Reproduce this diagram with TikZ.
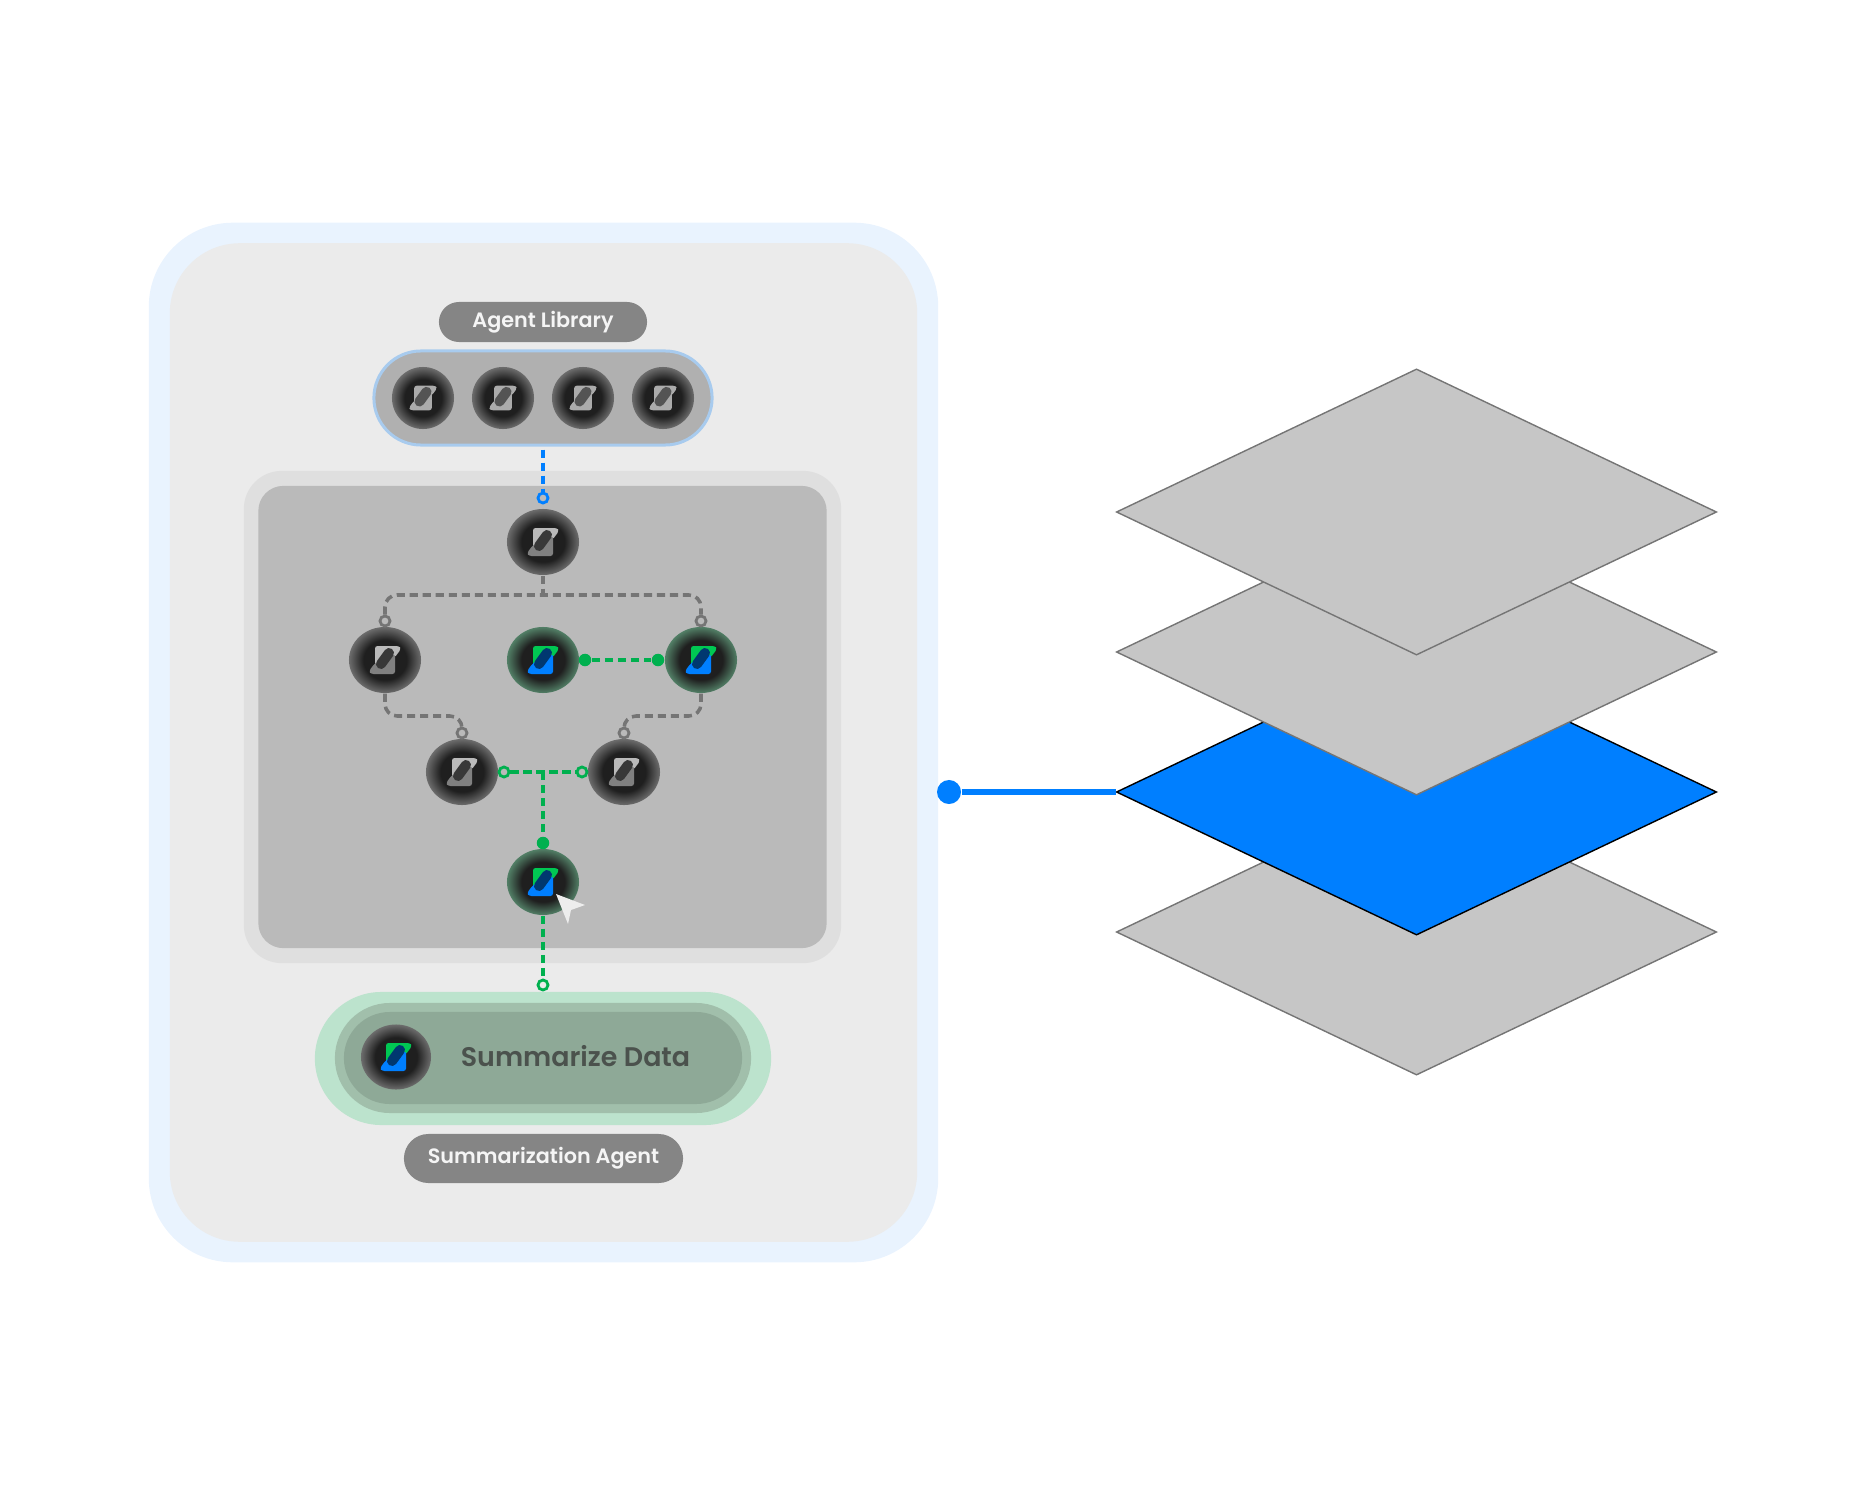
\documentclass[tikz,border=0pt]{standalone}
\usepackage{fontspec}
\setmainfont{Poppins}[BoldFont={Poppins SemiBold}]
\usetikzlibrary{shapes.geometric}
\definecolor{agentdark}{HTML}{1F1F1F}
\definecolor{ringgray}{HTML}{6C6C6C}
\definecolor{ringgreen}{HTML}{527F66}
\definecolor{linkblue}{HTML}{007FFF}
\definecolor{linkgreen}{HTML}{00B04F}
\definecolor{linkgray}{HTML}{757575}
\definecolor{panelgray}{HTML}{BABABA}
\definecolor{framecol}{HTML}{E9F3FE}
\definecolor{librim}{HTML}{A8CBEE}
\definecolor{glyphgreen}{HTML}{00C853}
\definecolor{glyphnavy}{HTML}{003870}
\definecolor{sumouter}{HTML}{BCE3CD}
\definecolor{summiddle}{HTML}{A1BFAB}
\definecolor{suminner}{HTML}{8EA997}
\definecolor{sumink}{HTML}{4B524D}
\pgfdeclareradialshading{agentgrayring}{\pgfpointorigin}{color(0bp)=(agentdark); color(15bp)=(agentdark); color(25bp)=(ringgray); color(50bp)=(ringgray)}
\pgfdeclareradialshading{agentgreenring}{\pgfpointorigin}{color(0bp)=(agentdark); color(15bp)=(agentdark); color(25bp)=(ringgreen); color(50bp)=(ringgreen)}
\tikzset{
  agent/.style={ellipse, inner sep=0, minimum width=0.72cm, minimum height=0.66cm},
  idle/.style={agent, shading=agentgrayring},
  active/.style={agent, shading=agentgreenring},
  tag/.style={fill=black!48, text=white!96!black, rounded corners=0.2cm, inner sep=0, font=\fontsize{5.9pt}{8pt}\selectfont\bfseries},
  layer/.style={diamond, draw=linkgray, fill=black!22.5, line width=0.4pt, inner sep=0, minimum width=6cm, minimum height=2.86cm},
  opendot/.style={circle, draw=#1, fill=panelgray, line width=0.8pt, inner sep=0, minimum size=0.1cm},
  soliddot/.style={circle, fill=#1, inner sep=0, minimum size=0.125cm},
  link/.style={draw=#1, line width=1pt, dash pattern=on 2.3pt off 1.4pt},
  pics/glyph/.style n args={3}{code={
    \fill[#1, rounded corners=0.025cm] (-10,-14) -- (14,-14) -- (16,-11) -- (10,-3) -- (-10,6) -- cycle;
    \fill[#2, rounded corners=0.025cm] (10,14) -- (-14,14) -- (-16,11) -- (-10,3) -- (10,-6) -- cycle;
    \draw[#3, line width=2.85pt, line cap=round] (-4,4) -- (4,-7);
  }}
}
\begin{document}
\begin{tikzpicture}[x=0.01cm, y=-0.01cm]
  \useasboundingbox (0,0) rectangle (1866,1485);
  % frame and panels
  \node[fill=framecol, rounded corners=0.84cm, inner sep=0, minimum width=7.89cm, minimum height=10.39cm] (frame) at (543.5,742.5) {};
  \node[fill=black!8, rounded corners=0.7cm, inner sep=0, minimum width=7.47cm, minimum height=9.98cm] (sheet) at (543.5,742.5) {};
  \node[fill=black!12.5, rounded corners=0.38cm, inner sep=0, minimum width=5.97cm, minimum height=4.92cm] (tray) at (542.5,717) {};
  \node[fill=panelgray, rounded corners=0.25cm, inner sep=0, minimum width=5.68cm, minimum height=4.62cm] (board) at (542.5,717) {};
  % library
  \node[tag, minimum width=2.08cm, minimum height=0.4cm] (libtag) at (543,322) {Agent Library};
  \node[draw=librim, fill=black!31, line width=0.85pt, rounded corners=0.47cm, inner sep=0, minimum width=3.38cm, minimum height=0.94cm] (library) at (543,398) {};
  \foreach \i/\x in {1/423,2/503,3/583,4/663} {
    \node[idle, minimum width=0.62cm, minimum height=0.62cm] (lib\i) at (\x,398) {};
    \pic[scale=0.88] at (lib\i) {glyph={black!33}{black!33}{black!67}};
  }
  % agents on the board
  \node[idle] (start) at (543,542) {};
  \node[idle] (left) at (385,660) {};
  \node[active] (mid) at (543,660) {};
  \node[active] (right) at (701,660) {};
  \node[idle] (lowl) at (462,772) {};
  \node[idle] (lowr) at (624,772) {};
  \node[active] (final) at (543,882) {};
  \foreach \n in {start,left,lowl,lowr} \pic at (\n) {glyph={black!27}{black!50}{black!78}};
  \foreach \n in {mid,right,final} \pic at (\n) {glyph={glyphgreen}{linkblue}{glyphnavy}};
  % end points
  \node[opendot=linkblue] (startin) at (543,498) {};
  \node[opendot=linkgray] (leftin) at (385,621) {};
  \node[opendot=linkgray] (rightin) at (701,621) {};
  \node[opendot=linkgray] (lowlin) at (462,733) {};
  \node[opendot=linkgray] (lowrin) at (624,733) {};
  \node[soliddot=linkgreen] (midout) at (585,660) {};
  \node[soliddot=linkgreen] (rightout) at (658,660) {};
  \node[opendot=linkgreen] (lowlout) at (504,772) {};
  \node[opendot=linkgreen] (lowrout) at (582,772) {};
  \node[soliddot=linkgreen] (finalin) at (543,843) {};
  \node[opendot=linkgreen, fill=black!8] (sumin) at (543,985) {};
  \coordinate (split) at (543,595);
  \coordinate (merge) at (543,772);
  \coordinate (ljoin) at (424,716);
  \coordinate (rjoin) at (662,716);
  % links
  \draw[link=linkblue, shorten <=0.03cm] (library.south) -- (startin.north);
  \draw[link=linkgray] (start.south) -- (split);
  \draw[link=linkgray, rounded corners=0.12cm] (leftin.north) |- (split) -| (rightin.north);
  \draw[link=linkgray, rounded corners=0.12cm] (left.south) |- (ljoin) -| (lowlin.north);
  \draw[link=linkgray, rounded corners=0.12cm] (right.south) |- (rjoin) -| (lowrin.north);
  \draw[link=linkgreen] (midout) -- (rightout);
  \draw[link=linkgreen] (lowlout.east) -- (lowrout.west);
  \draw[link=linkgreen] (merge) -- (finalin);
  \draw[link=linkgreen] (final.south) -- (sumin.north);
  % cursor
  \fill[black!7] (556,894) -- (585,905) -- (571,910) -- (568,924) -- cycle;
  % summarize
  \node[fill=sumouter, rounded corners=0.665cm, inner sep=0, minimum width=4.56cm, minimum height=1.33cm] (sumout) at (543,1058.5) {};
  \node[fill=summiddle, rounded corners=0.55cm, inner sep=0, minimum width=4.16cm, minimum height=1.10cm] (summid) at (543,1058) {};
  \node[fill=suminner, rounded corners=0.46cm, inner sep=0, minimum width=3.98cm, minimum height=0.92cm] (sumbox) at (543,1058) {};
  \node[idle, minimum width=0.70cm, minimum height=0.65cm] (sumagent) at (396,1057) {};
  \pic at (sumagent) {glyph={glyphgreen}{linkblue}{glyphnavy}};
  \node[text=sumink, font=\fontsize{7.65pt}{10pt}\selectfont\bfseries, inner sep=0] (sumtext) at (575.5,1056) {Summarize Data};
  \node[tag, rounded corners=0.245cm, minimum width=2.79cm, minimum height=0.49cm] (sumtag) at (543.5,1158.5) {Summarization Agent};
  % layers
  \node[layer] (l4) at (1416.5,932) {};
  \node[layer, draw=black, fill=linkblue] (l3) at (1416.5,792) {};
  \node[layer] (l2) at (1416.5,652) {};
  \node[layer] (l1) at (1416.5,512) {};
  \node[circle, fill=linkblue, inner sep=0, minimum size=0.24cm] (tap) at (949,792) {};
  \draw[linkblue, line width=1.7pt] (tap) -- (l3.west);
\end{tikzpicture}
\end{document}
